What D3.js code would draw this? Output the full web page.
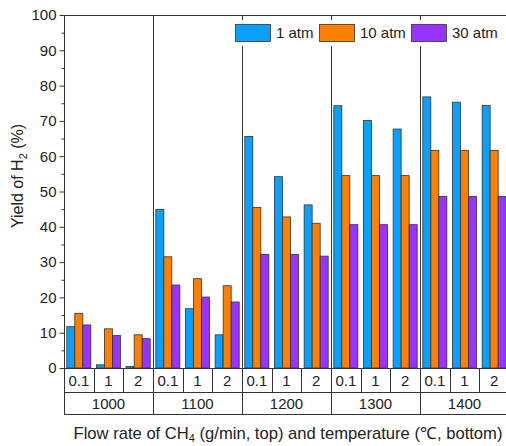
<!DOCTYPE html>
<html>
<head>
<meta charset="utf-8">
<script src="https://cdn.jsdelivr.net/npm/d3@7"></script>
<style>
  body { margin: 0; background: #fff; }
  svg { display: block; font-family: "Liberation Sans", Arial, sans-serif; }
</style>
</head>
<body>
<div id="chart"></div>
<script>
// data
var temps = ["1000", "1100", "1200", "1300", "1400"];
var flows = ["0.1", "1", "2"];
var series = ["1 atm", "10 atm", "30 atm"];
// one value per (temp, flow), temp-major
var yield1atm  = [11.7, 0.9, 0.4, 44.9, 16.8, 9.4, 65.6, 54.2, 46.2, 74.3, 70.1, 67.7, 76.8, 75.3, 74.4];
var yield10atm = [15.5, 11.1, 9.4, 31.5, 25.3, 23.3, 45.5, 42.8, 41.0, 54.5, 54.5, 54.5, 61.6, 61.6, 61.6];
var yield30atm = [12.2, 9.2, 8.3, 23.5, 20.1, 18.7, 32.2, 32.2, 31.7, 40.6, 40.6, 40.6, 48.6, 48.6, 48.6];
var yTicks = [0, 10, 20, 30, 40, 50, 60, 70, 80, 90, 100];
var colors = ["#0aa0ff", "#ff8000", "#9933ff"];

(function() {
  var width = 506, height = 446;
  var plotLeft = 64, plotRight = 509, plotTop = 15, plotBottom = 368;
  var row1 = 392, row2 = 414;
  var ink = "#333";

  var svg = d3.select("#chart").append("svg")
    .attr("width", width)
    .attr("height", height);

  var y = d3.scaleLinear().domain([0, 100]).range([plotBottom, plotTop]);
  var x0 = d3.scaleBand().domain(temps).range([plotLeft, plotRight]).padding(0);
  var x1 = d3.scaleBand().domain(flows).range([0, x0.bandwidth()]).padding(0);
  var x2 = d3.scaleBand().domain(series).range([0, x1.bandwidth()])
    .paddingInner(0).paddingOuter(0.35);
  var color = d3.scaleOrdinal().domain(series).range(colors);

  var allSeries = [yield1atm, yield10atm, yield30atm];
  var rows = [];
  temps.forEach(function(t, ti) {
    flows.forEach(function(f, fi) {
      series.forEach(function(s, si) {
        rows.push({ temp: t, flow: f, s: s, v: allSeries[si][ti * flows.length + fi] });
      });
    });
  });

  // bars
  svg.append("g").selectAll("rect")
    .data(rows)
    .enter()
    .append("rect")
    .attr("x", function(d) { return x0(d.temp) + x1(d.flow) + x2(d.s); })
    .attr("y", function(d) { return y(d.v); })
    .attr("width", x2.bandwidth())
    .attr("height", function(d) { return y(0) - y(d.v); })
    .attr("fill", function(d) { return color(d.s); })
    .attr("stroke", ink)
    .attr("stroke-width", 0.8);

  // group separators, full height through the table
  svg.append("g").selectAll("line")
    .data(temps.slice(1))
    .enter()
    .append("line")
    .attr("x1", function(d) { return Math.round(x0(d)) + 0.5; })
    .attr("x2", function(d) { return Math.round(x0(d)) + 0.5; })
    .attr("y1", plotTop)
    .attr("y2", row2)
    .attr("stroke", ink);

  // table: flow separators in the first row
  var subLines = [];
  temps.forEach(function(t) {
    flows.slice(1).forEach(function(f) { subLines.push(x0(t) + x1(f)); });
  });
  svg.append("g").selectAll("line")
    .data(subLines)
    .enter()
    .append("line")
    .attr("x1", function(d) { return Math.round(d) + 0.5; })
    .attr("x2", function(d) { return Math.round(d) + 0.5; })
    .attr("y1", plotBottom)
    .attr("y2", row1)
    .attr("stroke", ink);

  // horizontal lines of the frame / table
  [plotTop, plotBottom, row1, row2].forEach(function(yy) {
    svg.append("line")
      .attr("x1", plotLeft).attr("x2", plotRight)
      .attr("y1", yy + 0.5).attr("y2", yy + 0.5)
      .attr("stroke", ink);
  });
  svg.append("line")
    .attr("x1", plotLeft + 0.5).attr("x2", plotLeft + 0.5)
    .attr("y1", plotTop).attr("y2", row2)
    .attr("stroke", ink);

  // flow labels
  var flowLabels = [];
  temps.forEach(function(t) {
    flows.forEach(function(f) { flowLabels.push({ t: t, f: f }); });
  });
  svg.append("g").selectAll("text")
    .data(flowLabels)
    .enter()
    .append("text")
    .attr("x", function(d) { return x0(d.t) + x1(d.f) + x1.bandwidth() / 2; })
    .attr("y", (plotBottom + row1) / 2 + 6)
    .attr("text-anchor", "middle")
    .style("font-size", "15px")
    .attr("fill", "#222")
    .text(function(d) { return d.f; });

  // temperature labels
  svg.append("g").selectAll("text")
    .data(temps)
    .enter()
    .append("text")
    .attr("x", function(d) { return x0(d) + x0.bandwidth() / 2; })
    .attr("y", (row1 + row2) / 2 + 6)
    .attr("text-anchor", "middle")
    .style("font-size", "15px")
    .attr("fill", "#222")
    .text(function(d) { return d; });

  // y axis, major and minor ticks
  var yAxis = svg.append("g")
    .attr("transform", "translate(" + (plotLeft + 0.5) + ",0)")
    .call(d3.axisLeft(y).tickValues(yTicks).tickSize(5).tickPadding(3));
  yAxis.select(".domain").remove();
  yAxis.selectAll("line").attr("stroke", ink);
  yAxis.selectAll("text")
    .style("font-size", "15px")
    .style("font-family", "Liberation Sans, Arial, sans-serif")
    .attr("fill", "#222");

  var minor = d3.range(5, 100, 10);
  svg.append("g")
    .attr("transform", "translate(" + (plotLeft + 0.5) + ",0)")
    .call(d3.axisLeft(y).tickValues(minor).tickSize(3).tickFormat(""))
    .call(function(g) { g.select(".domain").remove(); })
    .selectAll("line").attr("stroke", ink);

  // y title
  var yt = svg.append("text")
    .attr("transform", "translate(23,176) rotate(-90)")
    .attr("text-anchor", "middle")
    .style("font-size", "16px")
    .attr("fill", "#222");
  yt.append("tspan").text("Yield of H");
  yt.append("tspan").attr("dy", 4).style("font-size", "11px").text("2");
  yt.append("tspan").attr("dy", -4).text(" (%)");

  // x title
  var xt = svg.append("text")
    .attr("x", 288)
    .attr("y", 439)
    .attr("text-anchor", "middle")
    .style("font-size", "16.6px")
    .attr("fill", "#222");
  xt.append("tspan").text("Flow rate of CH");
  xt.append("tspan").attr("dy", 3).style("font-size", "11px").text("4");
  xt.append("tspan").attr("dy", -3).text(" (g/min, top) and temperature (\u2103, bottom)");

  // legend
  var legendX = [235, 319, 411];
  var legend = svg.append("g");
  legend.append("rect")
    .attr("x", 231).attr("y", 20)
    .attr("width", 275).attr("height", 26)
    .attr("fill", "#fff");
  var items = legend.selectAll("g.item")
    .data(series)
    .enter()
    .append("g")
    .attr("class", "item")
    .attr("transform", function(d, i) { return "translate(" + legendX[i] + ",24)"; });
  items.append("rect")
    .attr("x", 0.5).attr("y", 0.5)
    .attr("width", 35).attr("height", 17)
    .attr("fill", function(d) { return color(d); })
    .attr("stroke", ink)
    .attr("stroke-width", 0.8);
  items.append("text")
    .attr("x", 41)
    .attr("y", 14)
    .style("font-size", "15px")
    .attr("fill", "#222")
    .text(function(d) { return d; });
})();
</script>
</body>
</html>
